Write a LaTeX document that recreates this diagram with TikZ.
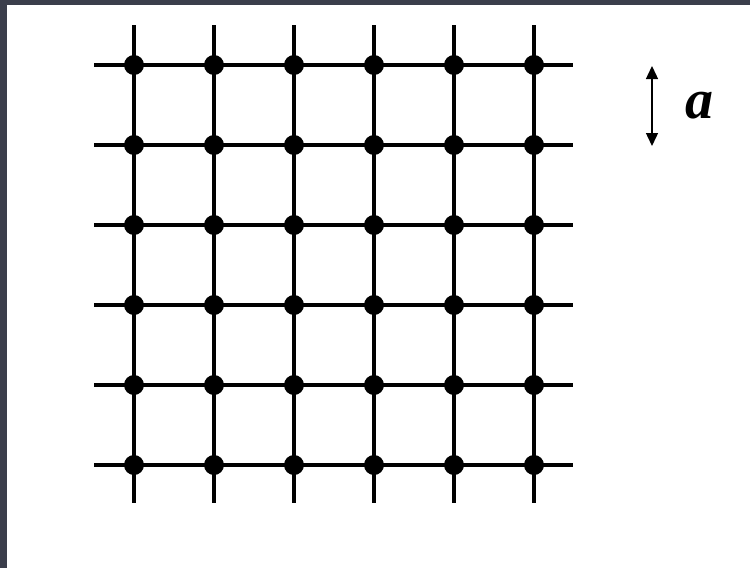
\documentclass[tikz,border=0pt]{standalone}
\usepackage{fontspec}
\setmainfont{Liberation Serif}
\usetikzlibrary{arrows.meta}
\definecolor{frame}{HTML}{3B3E4B}
\tikzset{
  bond/.style={draw=black, line width=4.5pt},
  site/.style={circle, fill=black, inner sep=0pt, minimum size=20pt},
  span/.style={draw=black, line width=1.4pt, {Triangle[length=13pt,width=12pt]}-{Triangle[length=13pt,width=12pt]}},
  lab/.style={font=\fontsize{56}{56}\selectfont\bfseries\itshape},
}
\begin{document}
\begin{tikzpicture}[x=1pt,y=-1pt]
\fill[frame] (0,0) rectangle (750,568);
\fill[white] (7,5) rectangle (750,568);
\useasboundingbox (0,0) rectangle (750,568);
% lattice lines
\foreach \k in {0,...,5}{
  \coordinate (hl-\k) at (94,65+80*\k);
  \coordinate (hr-\k) at (573,65+80*\k);
  \coordinate (vt-\k) at (134+80*\k,25);
  \coordinate (vb-\k) at (134+80*\k,503);
  \draw[bond] (hl-\k) -- (hr-\k);
  \draw[bond] (vt-\k) -- (vb-\k);
}
% sites
\foreach \i in {0,...,5}
  \foreach \j in {0,...,5}
    \node[site] (s-\i-\j) at (134+80*\i,65+80*\j) {};
% lattice constant
\coordinate (atop) at (652,66);
\coordinate (abot) at (652,146);
\draw[span] (atop) -- (abot);
\node[lab] (alab) at (699,106) {a};
\end{tikzpicture}
\end{document}
